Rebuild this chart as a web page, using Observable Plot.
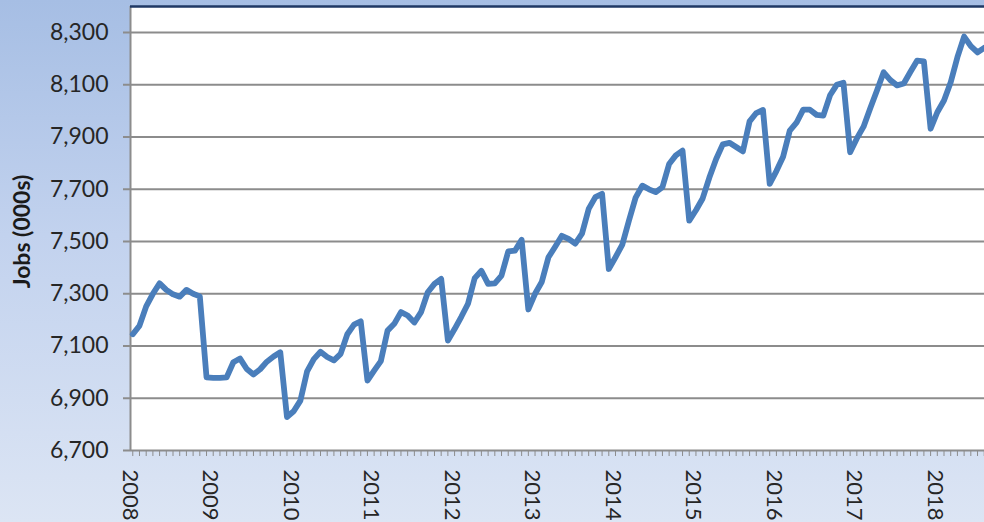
<!DOCTYPE html>
<html><head><meta charset="utf-8">
<script src="https://cdn.jsdelivr.net/npm/d3@7"></script>
<script src="https://cdn.jsdelivr.net/npm/@observablehq/plot@0.6"></script>
<style>
html,body{margin:0;padding:0;}
#chart{width:984px;height:522px;background:linear-gradient(to bottom,#a6bee4 0%,#c2d2ee 45%,#dce5f4 100%);overflow:hidden;}
</style></head><body><div id="chart"></div>
<script>
// Year labels and y-axis ticks
const yearLabels = [2008, 2009, 2010, 2011, 2012, 2013, 2014, 2015, 2016, 2017, 2018];
const yTicks = [6700, 6900, 7100, 7300, 7500, 7700, 7900, 8100, 8300];

// Monthly jobs (000s); series begins Feb 2008, ends Sep 2018
const jobs2008 = [7145, 7178, 7252, 7300, 7340, 7315, 7298, 7289, 7315, 7300, 7290]; // Feb-Dec
const jobs2009 = [6980, 6978, 6978, 6980, 7038, 7052, 7012, 6991, 7011, 7040, 7060, 7076];
const jobs2010 = [6828, 6850, 6891, 7003, 7050, 7078, 7058, 7045, 7070, 7145, 7182, 7195];
const jobs2011 = [6968, 7006, 7042, 7159, 7185, 7230, 7217, 7190, 7230, 7306, 7338, 7357];
const jobs2012 = [7121, 7165, 7212, 7262, 7360, 7388, 7338, 7340, 7370, 7462, 7465, 7507];
const jobs2013 = [7240, 7300, 7345, 7440, 7480, 7522, 7510, 7492, 7530, 7625, 7670, 7683];
const jobs2014 = [7395, 7440, 7487, 7580, 7668, 7714, 7700, 7689, 7708, 7797, 7830, 7848];
const jobs2015 = [7580, 7620, 7665, 7745, 7815, 7872, 7878, 7862, 7845, 7960, 7992, 8004];
const jobs2016 = [7721, 7770, 7825, 7925, 7955, 8005, 8005, 7985, 7982, 8060, 8100, 8108];
const jobs2017 = [7842, 7895, 7940, 8010, 8078, 8148, 8118, 8098, 8105, 8150, 8193, 8190];
const jobs2018 = [7932, 7995, 8040, 8110, 8206, 8285, 8248, 8224, 8242]; // Jan-Sep

const firstMonth = 1;            // Feb 2008 (months counted from Jan 2008 = 0)
const xDomain = [0.66, 128.04];  // visible month range
const yDomain = [6700, 8400];

const series = [jobs2008, jobs2009, jobs2010, jobs2011, jobs2012, jobs2013,
                jobs2014, jobs2015, jobs2016, jobs2017, jobs2018].flat();
const data = series.map((v, i) => ({m: firstMonth + i, v}));
const monthTicks = d3.range(1, 129);

const grid = "#8c8c8c";
const font = "Lato, 'Open Sans', 'Liberation Sans', sans-serif";

const chart = Plot.plot({
  width: 984,
  height: 522,
  marginLeft: 130,
  marginRight: 0,
  marginTop: 6,
  marginBottom: 72,
  style: {background: "transparent", fontFamily: font, overflow: "visible"},
  x: {domain: xDomain, axis: null},
  y: {domain: yDomain, axis: null},
  marks: [
    Plot.frame({fill: "white", stroke: "none"}),
    Plot.ruleY(yTicks, {stroke: grid, strokeWidth: 2, insetLeft: -7}),
    Plot.ruleX(monthTicks, {x: d => d, y1: yDomain[0], y2: yDomain[0], insetBottom: -6, stroke: grid, strokeWidth: 1}),
    Plot.ruleX([xDomain[0]], {stroke: grid, strokeWidth: 2}),
    Plot.ruleY([yDomain[1]], {stroke: "#1f3864", strokeWidth: 2.5}),
    Plot.line(data, {x: "m", y: "v", stroke: "#4a7ebb", strokeWidth: 5.8, strokeLinejoin: "round", strokeLinecap: "round"}),
    Plot.text(yTicks, {y: d => d, frameAnchor: "left", text: d => d3.format(",")(d), textAnchor: "end", dx: -22, fontSize: 23, fill: "#262626"}),
    Plot.text(yearLabels, {x: d => (d - 2008) * 12, y: yDomain[0], text: d => String(d), rotate: 90, textAnchor: "start", dx: 4, dy: 19, fontSize: 22, fill: "#262626"}),
    Plot.text(["Jobs (000s)"], {frameAnchor: "left", rotate: -90, textAnchor: "middle", dx: -108, dy: 3, fontWeight: "bold", fontSize: 23, fill: "#1a1a1a"})
  ]
});
document.getElementById("chart").appendChild(chart);
</script>
</body></html>
